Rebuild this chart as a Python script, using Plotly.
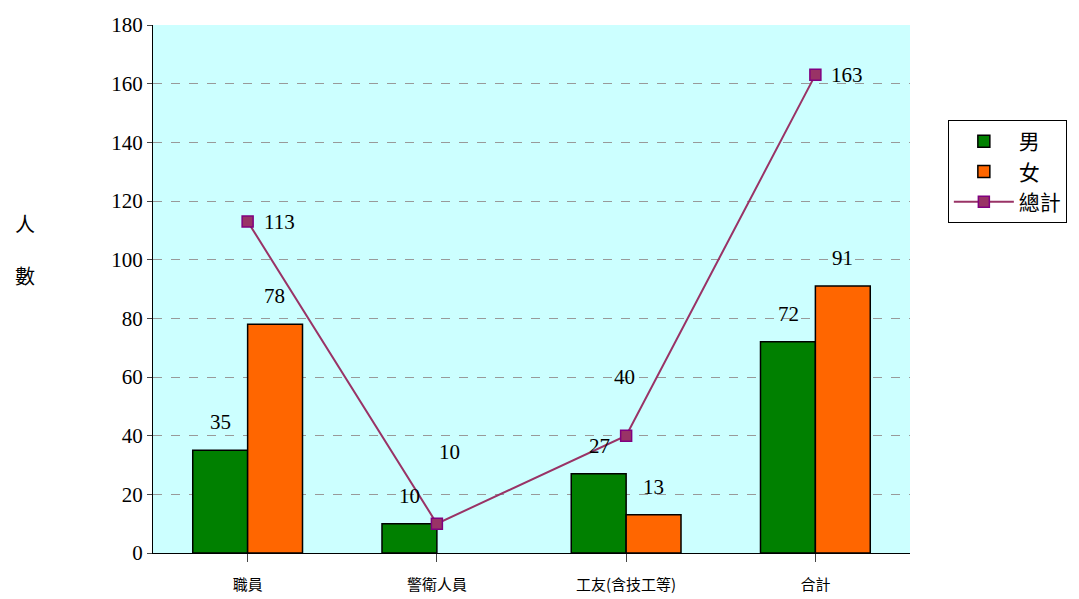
import plotly.graph_objects as go

categories = ["職員", "警衛人員", "工友(含技工等)", "合計"]
male = [35, 10, 27, 72]
female = [78, 0, 13, 91]
total = [113, 10, 40, 163]
y_ticks = list(range(0, 181, 20))

SERIF = "Liberation Serif, Times New Roman, serif"
CJK = "Noto Sans CJK TC, sans-serif"
LABEL = dict(family=SERIF, size=21, color="black")

fig = go.Figure()
fig.add_trace(go.Bar(
    x=categories, y=male, name="男",
    marker=dict(color="#008000", line=dict(color="black", width=1.5)),
))
fig.add_trace(go.Bar(
    x=categories, y=female, name="女",
    marker=dict(color="#FF6600",
                line=dict(color="black", width=[1.5 if v else 0 for v in female])),
))
fig.add_trace(go.Scatter(
    x=categories, y=total, name="總計", mode="lines+markers",
    line=dict(color="#993366", width=2),
    marker=dict(symbol="square", size=11, color="#993366",
                line=dict(color="#800080", width=1.5)),
    cliponaxis=False,
))

# bar value labels
for cat, m, f in zip(categories, male, female):
    fig.add_annotation(x=cat, y=m, text=str(m), showarrow=False,
                       xshift=-27, yshift=28, font=LABEL)
    if f:
        fig.add_annotation(x=cat, y=f, text=str(f), showarrow=False,
                           xshift=27, yshift=28, font=LABEL)

# total labels (offsets in pixels)
offsets = [(14, 0, "left"), (13, 72, "center"), (-2, 59, "center"), (14, 0, "left")]
for cat, val, (dx, dy, anchor) in zip(categories, total, offsets):
    fig.add_annotation(x=cat, y=val, text=str(val), showarrow=False,
                       xanchor=anchor, xshift=dx, yshift=dy, font=LABEL)

fig.add_annotation(xref="paper", yref="paper", x=-0.185, y=0.575, text="人<br><br>數",
                   showarrow=False, font=dict(family=CJK, size=20, color="black"))

fig.update_layout(
    width=1079, height=599,
    margin=dict(l=145, r=177, t=17, b=54, autoexpand=False),
    paper_bgcolor="white", plot_bgcolor="#CCFFFF",
    barmode="group", bargap=0.42, bargroupgap=0,
    font=dict(family=SERIF, size=20, color="black"),
    legend=dict(x=1.05, y=0.82, xanchor="left", yanchor="top",
                bordercolor="black", borderwidth=1, bgcolor="white",
                font=dict(family=CJK, size=21), tracegroupgap=8,
                itemwidth=60),
    xaxis=dict(showline=True, linecolor="black", linewidth=1,
               ticks="outside", ticklen=8, ticklabelstandoff=10,
               tickfont=dict(family=CJK, size=15), showgrid=False),
    yaxis=dict(range=[0, 180], tickvals=y_ticks, showline=True,
               linecolor="black", linewidth=1, ticks="outside",
               gridcolor="#999999", griddash="dash", gridwidth=1,
               zeroline=False, tickfont=dict(family=SERIF, size=21)),
)

fig.write_html("out.html")
